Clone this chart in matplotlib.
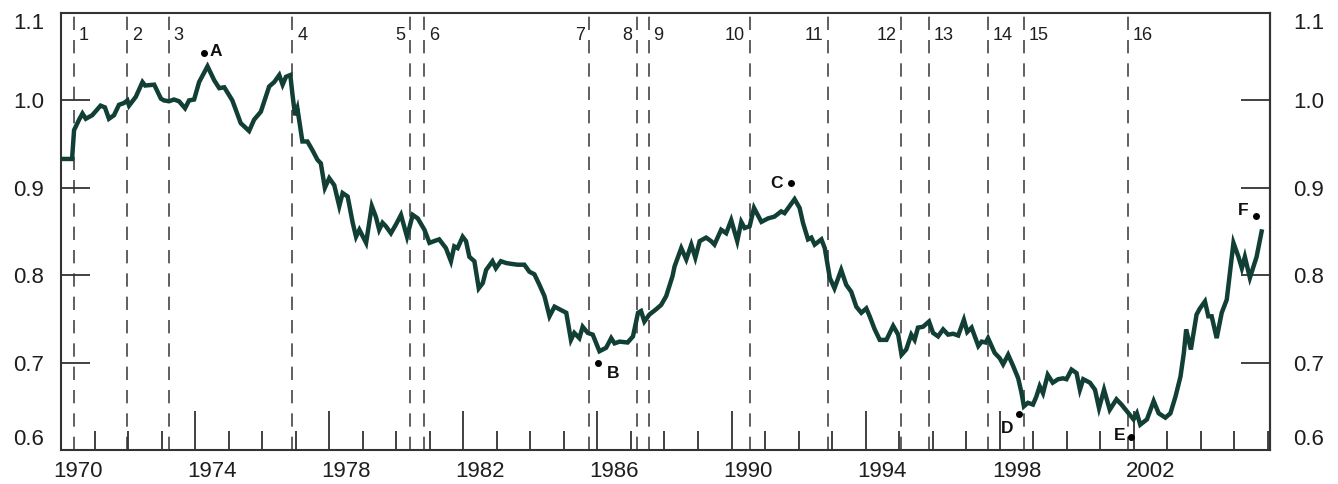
import matplotlib
matplotlib.use('Agg')
import matplotlib.pyplot as plt

plt.rcParams['font.family'] = ['Liberation Sans', 'DejaVu Sans']

# monthly-ish readings of the index (decimal year, value)
dates = [
    1970.00, 1970.33, 1970.39, 1970.54, 1970.64, 1970.74, 1970.93, 1971.18, 1971.31, 1971.43,
    1971.58, 1971.73, 1971.88, 1971.98, 1972.03, 1972.23, 1972.43, 1972.51, 1972.78, 1972.98,
    1973.07, 1973.22, 1973.37, 1973.52, 1973.70, 1973.82, 1973.97, 1974.12, 1974.37, 1974.57,
    1974.72, 1974.87, 1975.11, 1975.36, 1975.61, 1975.76, 1975.96, 1976.21, 1976.36, 1976.51,
    1976.61, 1976.71, 1976.84, 1976.90, 1976.98, 1977.05, 1977.20, 1977.35, 1977.50, 1977.65,
    1977.75, 1977.87, 1978.00, 1978.15, 1978.30, 1978.40, 1978.55, 1978.70, 1978.80, 1978.90,
    1979.10, 1979.27, 1979.39, 1979.49, 1979.59, 1979.69, 1979.84, 1979.99, 1980.14, 1980.32,
    1980.49, 1980.64, 1980.84, 1980.99, 1981.13, 1981.28, 1981.48, 1981.63, 1981.73, 1981.83,
    1981.98, 1982.08, 1982.18, 1982.33, 1982.46, 1982.58, 1982.68, 1982.87, 1982.97, 1983.12,
    1983.27, 1983.42, 1983.62, 1983.82, 1983.97, 1984.12, 1984.27, 1984.42, 1984.57, 1984.72,
    1984.87, 1985.07, 1985.21, 1985.31, 1985.46, 1985.56, 1985.71, 1985.86, 1986.06, 1986.26,
    1986.41, 1986.51, 1986.66, 1986.90, 1987.06, 1987.21, 1987.30, 1987.40, 1987.55, 1987.75,
    1987.90, 1988.05, 1988.24, 1988.30, 1988.50, 1988.65, 1988.80, 1988.92, 1989.05, 1989.24,
    1989.39, 1989.49, 1989.69, 1989.84, 1989.99, 1990.17, 1990.29, 1990.39, 1990.54, 1990.67,
    1990.89, 1991.09, 1991.28, 1991.48, 1991.58, 1991.73, 1991.88, 1992.03, 1992.13, 1992.28,
    1992.38, 1992.48, 1992.68, 1992.78, 1992.93, 1993.07, 1993.27, 1993.42, 1993.57, 1993.72,
    1993.87, 1994.02, 1994.12, 1994.27, 1994.42, 1994.62, 1994.82, 1994.97, 1995.07, 1995.21,
    1995.36, 1995.46, 1995.56, 1995.71, 1995.89, 1996.01, 1996.16, 1996.31, 1996.46, 1996.61,
    1996.76, 1996.93, 1997.03, 1997.16, 1997.36, 1997.46, 1997.58, 1997.65, 1997.85, 1998.00,
    1998.10, 1998.25, 1998.40, 1998.55, 1998.65, 1998.72, 1998.84, 1998.99, 1999.09, 1999.19,
    1999.29, 1999.43, 1999.58, 1999.74, 1999.89, 1999.99, 2000.14, 2000.29, 2000.39, 2000.49,
    2000.69, 2000.84, 2000.96, 2001.11, 2001.28, 2001.48, 2001.63, 2001.84, 2001.99, 2002.09,
    2002.19, 2002.39, 2002.59, 2002.74, 2002.94, 2003.09, 2003.24, 2003.39, 2003.49, 2003.56,
    2003.70, 2003.87, 2003.97, 2004.12, 2004.22, 2004.32, 2004.47, 2004.62, 2004.77, 2004.97,
    2005.12, 2005.22, 2005.31, 2005.46, 2005.66, 2005.81,
]
index_vals = [
    0.933, 0.933, 0.966, 0.978, 0.985, 0.979, 0.983, 0.994, 0.992, 0.979,
    0.983, 0.995, 0.997, 1.000, 0.994, 1.004, 1.021, 1.017, 1.018, 1.002,
    1.000, 0.999, 1.001, 0.999, 0.991, 1.000, 1.001, 1.021, 1.039, 1.023,
    1.014, 1.015, 1.000, 0.974, 0.965, 0.978, 0.987, 1.016, 1.021, 1.029,
    1.018, 1.027, 1.029, 1.008, 0.983, 0.991, 0.953, 0.953, 0.943, 0.932,
    0.928, 0.900, 0.911, 0.903, 0.879, 0.894, 0.890, 0.860, 0.844, 0.852,
    0.837, 0.879, 0.867, 0.852, 0.860, 0.856, 0.848, 0.858, 0.869, 0.844,
    0.869, 0.865, 0.852, 0.837, 0.839, 0.841, 0.831, 0.816, 0.833, 0.831,
    0.844, 0.839, 0.821, 0.816, 0.785, 0.791, 0.806, 0.816, 0.808, 0.816,
    0.814, 0.813, 0.812, 0.812, 0.804, 0.801, 0.789, 0.776, 0.753, 0.764,
    0.761, 0.757, 0.726, 0.734, 0.728, 0.741, 0.734, 0.732, 0.713, 0.717,
    0.728, 0.722, 0.724, 0.723, 0.730, 0.757, 0.759, 0.747, 0.755, 0.761,
    0.766, 0.776, 0.799, 0.810, 0.831, 0.818, 0.835, 0.820, 0.839, 0.843,
    0.839, 0.835, 0.852, 0.848, 0.863, 0.839, 0.861, 0.854, 0.856, 0.877,
    0.861, 0.865, 0.867, 0.873, 0.871, 0.879, 0.887, 0.877, 0.860, 0.841,
    0.843, 0.835, 0.841, 0.831, 0.797, 0.785, 0.806, 0.789, 0.781, 0.764,
    0.757, 0.762, 0.753, 0.738, 0.726, 0.726, 0.742, 0.732, 0.709, 0.715,
    0.732, 0.726, 0.740, 0.741, 0.747, 0.734, 0.730, 0.738, 0.732, 0.733,
    0.731, 0.749, 0.735, 0.740, 0.719, 0.724, 0.723, 0.728, 0.711, 0.705,
    0.698, 0.709, 0.696, 0.682, 0.665, 0.650, 0.654, 0.652, 0.661, 0.673,
    0.665, 0.686, 0.677, 0.681, 0.682, 0.681, 0.692, 0.688, 0.669, 0.681,
    0.677, 0.669, 0.648, 0.669, 0.646, 0.658, 0.652, 0.642, 0.635, 0.642,
    0.629, 0.635, 0.656, 0.642, 0.637, 0.642, 0.661, 0.684, 0.711, 0.738,
    0.715, 0.755, 0.762, 0.770, 0.753, 0.753, 0.728, 0.757, 0.772, 0.837,
    0.821, 0.808, 0.821, 0.797, 0.821, 0.850,
]

# numbered vertical events
event_dates = [1970.39, 1971.98, 1973.22, 1976.90, 1980.41, 1980.84, 1985.76, 1987.18,
               1987.53, 1990.54, 1992.88, 1995.06, 1995.88, 1997.64, 1998.72, 2001.82]
event_labels = [str(i) for i in range(1, 17)]
event_left = ['5', '7', '8', '10', '11', '12']

# lettered turning points
point_labels = ['A', 'B', 'C', 'D', 'E', 'F']
point_dates = [1974.27, 1986.03, 1991.78, 1998.57, 2001.92, 2005.64]
point_vals = [1.054, 0.700, 0.905, 0.641, 0.615, 0.868]
point_offsets = [(4, 1), (6, -8), (-6, 0), (-4, -10), (-4, 1), (-5, 4)]

year_ticks = list(range(1970, 2007))
major_years = list(range(1970, 2003, 4))
y_ticks = [0.6, 0.7, 0.8, 0.9, 1.0, 1.1]

line_color = '#113f35'
axis_color = '#333333'
text_color = '#1e1e1e'

fig = plt.figure(figsize=(13.38, 4.84), dpi=100)
ax = fig.add_axes([61 / 1338, 1 - 450 / 484, (1270 - 61) / 1338, (450 - 13) / 484])

for d in event_dates:
    ax.axvline(d, color='#444444', lw=1.2, linestyle=(0, (8, 6)), zorder=1)

ax.plot(dates, index_vals, color=line_color, lw=3.2, zorder=3, solid_joinstyle='miter')

for d, lab in zip(event_dates, event_labels):
    if lab in event_left:
        ax.annotate(lab, (d, 1.074), xytext=(-3.5, 0), textcoords='offset points',
                    ha='right', va='center', fontsize=13, color=text_color)
    else:
        ax.annotate(lab, (d, 1.074), xytext=(3.5, 0), textcoords='offset points',
                    ha='left', va='center', fontsize=13, color=text_color)

ax.plot(point_dates, point_vals, 'o', color='black', ms=4, zorder=4)
for lab, d, v, off in zip(point_labels, point_dates, point_vals, point_offsets):
    ax.annotate(lab, (d, v), xytext=off, textcoords='offset points',
                ha='left' if off[0] > 0 else 'right', va='center',
                fontsize=12.5, fontweight='bold', color='#111111')

ax.set_xlim(1970, 2006.06)
ax.set_ylim(0.6, 1.1)

for s in ax.spines.values():
    s.set_color(axis_color)
    s.set_linewidth(1.5)

# x ticks: yearly small ticks, taller every four years, labels at mid-year
ax.set_xticks(major_years)
ax.set_xticks(year_ticks, minor=True)
ax.tick_params(axis='x', which='major', direction='in', length=28, width=1.3,
               color=axis_color, labelbottom=False)
ax.tick_params(axis='x', which='minor', direction='in', length=14, width=1.3,
               color=axis_color)
secx = ax.secondary_xaxis('bottom')
secx.set_xticks([y + 0.5 for y in major_years])
secx.set_xticklabels([str(y) for y in major_years])
secx.tick_params(length=0, pad=8, labelsize=16, labelcolor=text_color)
secx.spines['bottom'].set_visible(False)

# y ticks on both sides, pointing inward
ax.set_yticks(y_ticks)
ax.set_yticklabels(['%.1f' % v for v in y_ticks])
ax.tick_params(axis='y', direction='in', length=21, width=1.3, color=axis_color,
               pad=12, labelsize=16, labelcolor=text_color)
secy = ax.secondary_yaxis('right')
secy.set_yticks(y_ticks)
secy.set_yticklabels(['%.1f' % v for v in y_ticks])
secy.tick_params(direction='in', length=21, width=1.3, color=axis_color,
                 pad=17, labelsize=16, labelcolor=text_color)
secy.spines['right'].set_color(axis_color)
secy.spines['right'].set_linewidth(1.5)

for labels in (ax.get_yticklabels(), secy.get_yticklabels()):
    labels[0].set_va('bottom')
    labels[-1].set_va('top')

plt.savefig('out.png', dpi=100)
plt.close()
